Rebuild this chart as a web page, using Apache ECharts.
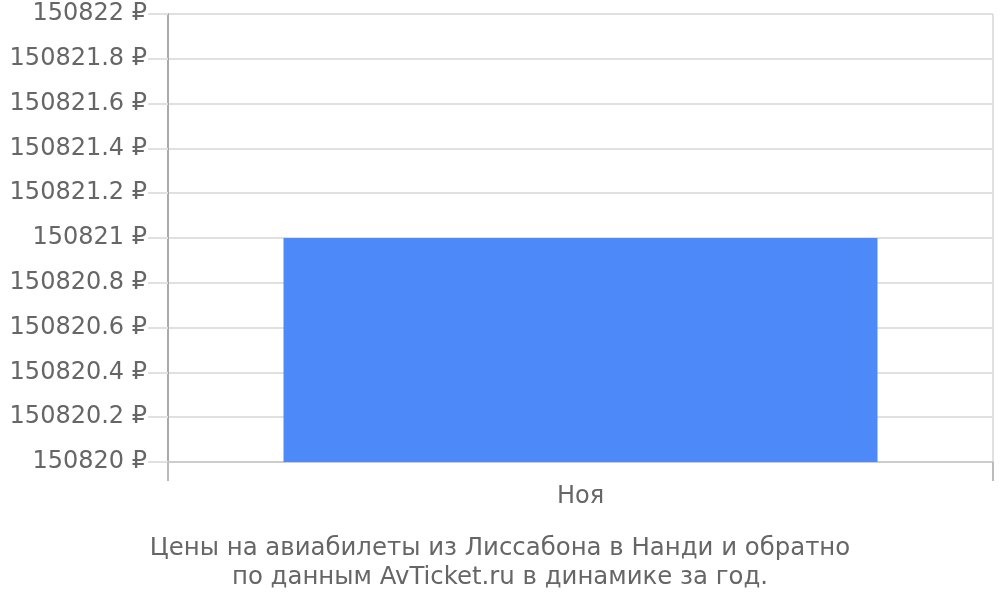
<!DOCTYPE html>
<html><head><meta charset="utf-8">
<script src="https://cdn.jsdelivr.net/npm/echarts@6/dist/echarts.min.js"></script>
<style>html,body{margin:0;padding:0;background:#fff}#c{width:1000px;height:600px}</style>
</head><body><div id="c"></div>
<script>
const categories = ['Ноя'];
const prices = [150821];
const yMin = 150820, yMax = 150822, yStep = 0.2;
const titleText = 'Цены на авиабилеты из Лиссабона в Нанди и обратно\nпо данным AvTicket.ru в динамике за год.';

const chart = echarts.init(document.getElementById('c'));
const font = 'DejaVu Sans';
chart.setOption({
  animation: false,
  backgroundColor: '#fff',
  title: {
    text: titleText, left: 'center', top: 529,
    textStyle: {fontFamily: font, fontSize: 24.4, fontWeight: 'normal', color: '#666', lineHeight: 29, align: 'center'}
  },
  grid: {left: 168, right: 7, top: 14, bottom: 138},
  xAxis: {
    type: 'category', data: categories,
    axisLine: {show: true, lineStyle: {color: '#ccc', width: 2}},
    axisTick: {show: true, length: 19, lineStyle: {color: '#bbb', width: 2}},
    splitLine: {show: true, lineStyle: {color: '#e0e0e0', width: 2}},
    axisLabel: {fontFamily: font, fontSize: 24, color: '#666', margin: 23}
  },
  yAxis: {
    type: 'value', min: yMin, max: yMax, interval: yStep,
    axisLine: {show: true, lineStyle: {color: '#aaa', width: 2}},
    axisTick: {show: true, length: 20, lineStyle: {color: '#e0e0e0', width: 2}},
    splitLine: {show: true, lineStyle: {color: '#e0e0e0', width: 2}},
    axisLabel: {fontFamily: font, fontSize: 24, color: '#666', margin: 21,
      formatter: v => String(Number(v.toFixed(1))) + ' ₽'}
  },
  series: [{
    type: 'bar', data: prices, barWidth: '72%',
    itemStyle: {color: '#4d89f9'}
  }]
});
</script></body></html>
